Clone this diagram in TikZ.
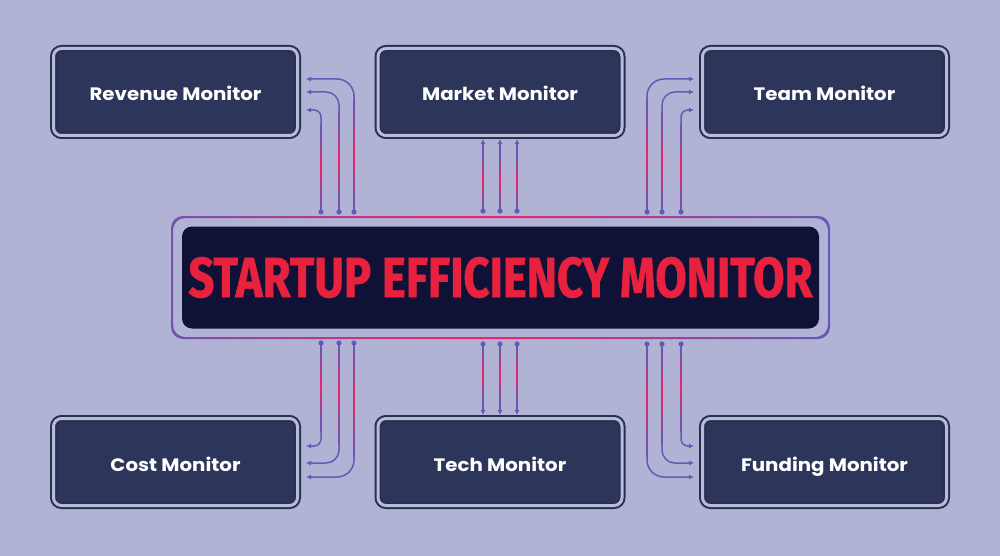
\documentclass[tikz,border=0pt]{standalone}
\usepackage{fontspec}
\usetikzlibrary{arrows.meta,calc}
\newfontfamily\labelfont{Poppins}
\newfontfamily\titlefont{Fira Sans}[FakeBold=1.2]
\definecolor{bg}{HTML}{B1B3D5}
\definecolor{boxline}{HTML}{29304F}
\definecolor{boxfill}{HTML}{2D365A}
\definecolor{ring}{HTML}{B9BBDC}
\definecolor{hubfill}{HTML}{0F1236}
\definecolor{cpurple}{HTML}{6757B6}
\definecolor{cpink}{HTML}{F2226A}
\definecolor{titlered}{HTML}{E8213F}
\tikzset{
  monbox/.style={fill=boxfill, draw=boxline, double=ring, double distance=3pt,
    line width=2pt, rounded corners=8pt, minimum width=244pt, minimum height=87pt,
    outer sep=0pt, inner sep=0pt, text=white, text height=20pt, text depth=2pt,
    font=\labelfont\bfseries\fontsize{18}{21}\selectfont},
  conn/.style={draw=cpurple, line width=1.5pt, -{Latex[length=5pt,width=5pt]}},
  dot/.style={fill=cpurple}
}
\newcommand{\lbl}[1]{\scalebox{1.1}[1]{#1}}
\newcommand{\grad}[3]{%
  \foreach \i in {0,...,23}{%
    \pgfmathsetmacro\pp{100*(1-abs(2*(\i+0.5)/24-1))^1.3}%
    \fill[cpink!\pp!cpurple] (#1-0.8,{#2+(#3-#2)*\i/24}) rectangle (#1+0.8,{#2+(#3-#2)*(\i+1.15)/24});
  }}
\begin{document}
\begin{tikzpicture}[x=1pt,y=-1pt]
\fill[bg] (0,0) rectangle (1000,556);
\useasboundingbox (0,0) rectangle (1000,556);

% boxes
\node[monbox] (rev)  at (175.5,92)  {\lbl{Revenue Monitor}};
\node[monbox] (mkt)  at (500,92)    {\lbl{Market Monitor}};
\node[monbox] (team) at (824.5,92)  {\lbl{Team Monitor}};
\node[monbox] (cost) at (175.5,462) {\lbl{Cost Monitor}};
\node[monbox] (tech) at (500,462)   {\lbl{Tech Monitor}};
\node[monbox] (fund) at (824.5,462) {\lbl{Funding Monitor}};

% hub ring with horizontal colour gradient
\begin{scope}[rounded corners=12pt, even odd rule]
  \clip (171,216) rectangle (830,339)
        (173,218) rectangle (828,337);
  \foreach \i in {0,...,66}{%
    \pgfmathsetmacro\pp{max(0,100*(1-abs(171+10*\i-470)/340))}%
    \fill[cpink!\pp!cpurple, sharp corners] (171+10*\i,210) rectangle (182+10*\i,345);
  }
\end{scope}
\node[fill=hubfill, rounded corners=10pt, minimum width=637pt, minimum height=102pt,
  inner sep=0pt, outer sep=0pt] (hub) at (500.5,277.5)
  {\color{titlered}\resizebox{624pt}{40pt}{\titlefont\bfseries STARTUP EFFICIENCY MONITOR}};

% anchor coordinates on the hub
\coordinate (t1) at (321,212); \coordinate (t2) at (339,212); \coordinate (t3) at (354,212);
\coordinate (t4) at (483,211); \coordinate (t5) at (500,211); \coordinate (t6) at (517,211);
\coordinate (t7) at (647,212); \coordinate (t8) at (662,212); \coordinate (t9) at (681,212);
\coordinate (b1) at (321,343); \coordinate (b2) at (339,343); \coordinate (b3) at (354,343);
\coordinate (b4) at (483,344); \coordinate (b5) at (500,344); \coordinate (b6) at (517,344);
\coordinate (b7) at (647,344); \coordinate (b8) at (662,344); \coordinate (b9) at (681,344);

% top-left to Revenue
\draw[conn, rounded corners=7pt]  (t1) |- ($(rev.east)+(8.5,18)$);
\draw[conn, rounded corners=13pt] (t2) |- ($(rev.east)+(8.5,0)$);
\draw[conn, rounded corners=17pt] (t3) |- ($(rev.east)+(8.5,-13)$);
\grad{321}{212}{125}\grad{339}{212}{112}\grad{354}{212}{100}
% top middle to Market
\draw[conn] (t4) -- ($(mkt.south -| t4)+(0,3.5)$);
\draw[conn] (t5) -- ($(mkt.south -| t5)+(0,3.5)$);
\draw[conn] (t6) -- ($(mkt.south -| t6)+(0,3.5)$);
\grad{483}{211}{150}\grad{500}{211}{150}\grad{517}{211}{150}
% top-right to Team
\draw[conn, rounded corners=7pt]  (t9) |- ($(team.west)+(-8.5,18)$);
\draw[conn, rounded corners=13pt] (t8) |- ($(team.west)+(-8.5,0)$);
\draw[conn, rounded corners=17pt] (t7) |- ($(team.west)+(-8.5,-13)$);
\grad{681}{212}{125}\grad{662}{212}{112}\grad{647}{212}{100}
% bottom-left to Cost
\draw[conn, rounded corners=7pt]  (b1) |- ($(cost.east)+(8.5,-16)$);
\draw[conn, rounded corners=13pt] (b2) |- ($(cost.east)+(8.5,1)$);
\draw[conn, rounded corners=17pt] (b3) |- ($(cost.east)+(8.5,15)$);
\grad{321}{343}{431}\grad{339}{343}{444}\grad{354}{343}{456}
% bottom middle to Tech
\draw[conn] (b4) -- ($(tech.north -| b4)+(0,-3.5)$);
\draw[conn] (b5) -- ($(tech.north -| b5)+(0,-3.5)$);
\draw[conn] (b6) -- ($(tech.north -| b6)+(0,-3.5)$);
\grad{483}{344}{405}\grad{500}{344}{405}\grad{517}{344}{405}
% bottom-right to Funding
\draw[conn, rounded corners=7pt]  (b9) |- ($(fund.west)+(-8.5,-16)$);
\draw[conn, rounded corners=13pt] (b8) |- ($(fund.west)+(-8.5,1)$);
\draw[conn, rounded corners=17pt] (b7) |- ($(fund.west)+(-8.5,15)$);
\grad{681}{344}{431}\grad{662}{344}{444}\grad{647}{344}{456}

% dots
\foreach \p in {t1,t2,t3,t4,t5,t6,t7,t8,t9,b1,b2,b3,b4,b5,b6,b7,b8,b9}
  \fill[dot] (\p) circle (2.6pt);
\end{tikzpicture}
\end{document}
